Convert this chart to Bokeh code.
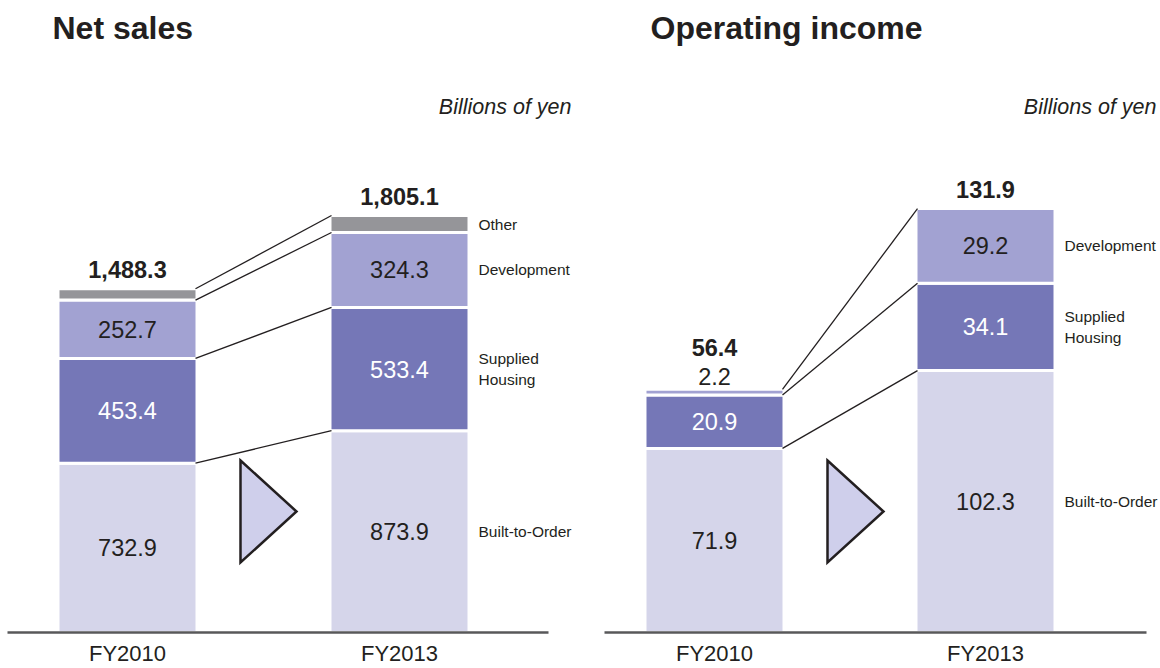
from bokeh.plotting import figure
from bokeh.layouts import row
from bokeh.models import Range1d
from bokeh.embed import file_html
from bokeh.resources import INLINE
from bokeh.core.properties import value

# ---------------- data ----------------
years = ["FY2010", "FY2013"]

sales_segments = ["Built-to-Order", "Supplied\nHousing", "Development", "Other"]
sales_bto = [732.9, 873.9]
sales_sh = [453.4, 533.4]
sales_dev = [252.7, 324.3]
sales_other = [49.3, 73.5]
sales_total = ["1,488.3", "1,805.1"]

oi_segments = ["Built-to-Order", "Supplied\nHousing", "Development"]
oi_bto = [71.9, 102.3]
oi_sh = [20.9, 34.1]
oi_dev = [2.2, 29.2]
oi_total = ["56.4", "131.9"]

# ---------------- style ----------------
C_BTO = "#d5d5ea"
C_SH = "#7577b7"
C_DEV = "#a2a2d2"
C_OTHER = "#959599"
TXT = "#231f20"
FONT = "Liberation Sans"
W, H = 580, 668
BASE = 632  # baseline, pixels from top


def panel(title, segs, names, colors, label_colors, show_vals, totals,
          ky, ux, x0, base_x0, base_x1, title_x, unit_right):
    p = figure(width=W, height=H, x_axis_type=None, y_axis_type=None,
               x_range=Range1d(-x0 / ux, (W - x0) / ux),
               y_range=Range1d(-(H - BASE) / ky, BASE / ky),
               min_border=0, toolbar_location=None, output_backend="svg",
               outline_line_color=None, background_fill_color="white",
               border_fill_color="white")
    p.grid.visible = False

    def dx(px):
        return (px - x0) / ux

    def dy(py):
        return (BASE - py) / ky

    xs = list(range(len(years)))
    bw = 136 / ux
    bottoms = [0.0] * len(xs)
    tops_all = []
    for vals, col, lc, sv in zip(segs, colors, label_colors, show_vals):
        tops = [b + v for b, v in zip(bottoms, vals)]
        p.vbar(x=xs, bottom=bottoms, top=tops, width=(136 + 3) / ux,
               fill_color=col, line_color="white", line_width=3)
        if sv:
            lx, ly, lt, lcs = [], [], [], []
            for i, (b, t, v) in enumerate(zip(bottoms, tops, vals)):
                if (t - b) * ky >= 24:
                    lx.append(xs[i]); ly.append((b + t) / 2)
                    lt.append(f"{v:.1f}"); lcs.append(lc)
                else:
                    lx.append(xs[i]); ly.append(t + 13 / ky)
                    lt.append(f"{v:.1f}"); lcs.append(TXT)
            p.text(x=lx, y=ly, text=lt, text_color=lcs,
                   text_font=value(FONT), text_font_size="23.5px",
                   text_align="center", text_baseline="middle")
        tops_all.append(tops)
        bottoms = tops

    # segment names to the right of last bar
    last = len(xs) - 1
    nx, ny = [], []
    cum = 0.0
    for vals in segs:
        ny.append(cum + vals[last] / 2)
        cum += vals[last]
        nx.append(last + bw / 2 + 11 / ux)
    p.text(x=nx, y=ny, text=names, text_color=TXT, text_font=value(FONT),
           text_font_size="15.5px", text_align="left", text_baseline="middle",
           text_line_height=1.2)

    # connectors between the bars
    p.segment(x0=[bw / 2] * len(segs), y0=[t[0] for t in tops_all],
              x1=[1 - bw / 2] * len(segs), y1=[t[1] for t in tops_all],
              line_color=TXT, line_width=1.3)

    # totals
    ty = []
    for i in xs:
        top = tops_all[-1][i]
        small = segs[-1][i] * ky < 24 and show_vals[-1]
        ty.append(top + (42 if small else 19) / ky)
    p.text(x=xs, y=ty, text=totals, text_color=TXT, text_font=value(FONT),
           text_font_size="23.5px", text_font_style="bold",
           text_align="center", text_baseline="middle")

    # arrow triangle
    p.patch(x=[dx(x0 + 113), dx(x0 + 169), dx(x0 + 113)],
            y=[dy(460), dy(511), dy(562)],
            fill_color="#cfcfeb", line_color=TXT, line_width=2.5,
            line_join="miter")

    # baseline
    p.segment(x0=[dx(base_x0)], y0=[0], x1=[dx(base_x1)], y1=[0],
              line_color="#58585a", line_width=2.5)

    # year labels
    p.text(x=xs, y=[dy(653)] * len(xs), text=years, text_color=TXT,
           text_font=value(FONT), text_font_size="22px",
           text_align="center", text_baseline="middle")

    # title and unit
    p.text(x=[dx(title_x)], y=[dy(27)], text=[title], text_color=TXT,
           text_font=value(FONT), text_font_size="32px",
           text_font_style="bold", text_align="left",
           text_baseline="middle")
    p.text(x=[dx(unit_right)], y=[dy(106)], text=["Billions of yen"],
           text_color=TXT, text_font=value(FONT), text_font_size="21.5px",
           text_font_style="italic", text_align="right",
           text_baseline="middle")
    return p


p1 = panel("Net sales",
           [sales_bto, sales_sh, sales_dev, sales_other], sales_segments,
           [C_BTO, C_SH, C_DEV, C_OTHER], [TXT, "white", TXT, TXT],
           [True, True, True, False], sales_total,
           ky=0.231, ux=272, x0=127, base_x0=7, base_x1=548,
           title_x=52, unit_right=571)

p2 = panel("Operating income",
           [oi_bto, oi_sh, oi_dev], oi_segments,
           [C_BTO, C_SH, C_DEV], [TXT, "white", TXT],
           [True, True, True], oi_total,
           ky=2.56, ux=271, x0=134, base_x0=24, base_x1=566,
           title_x=70, unit_right=576)

layout = row(p1, p2, spacing=0)
open("out.html", "w").write(file_html(layout, INLINE))
